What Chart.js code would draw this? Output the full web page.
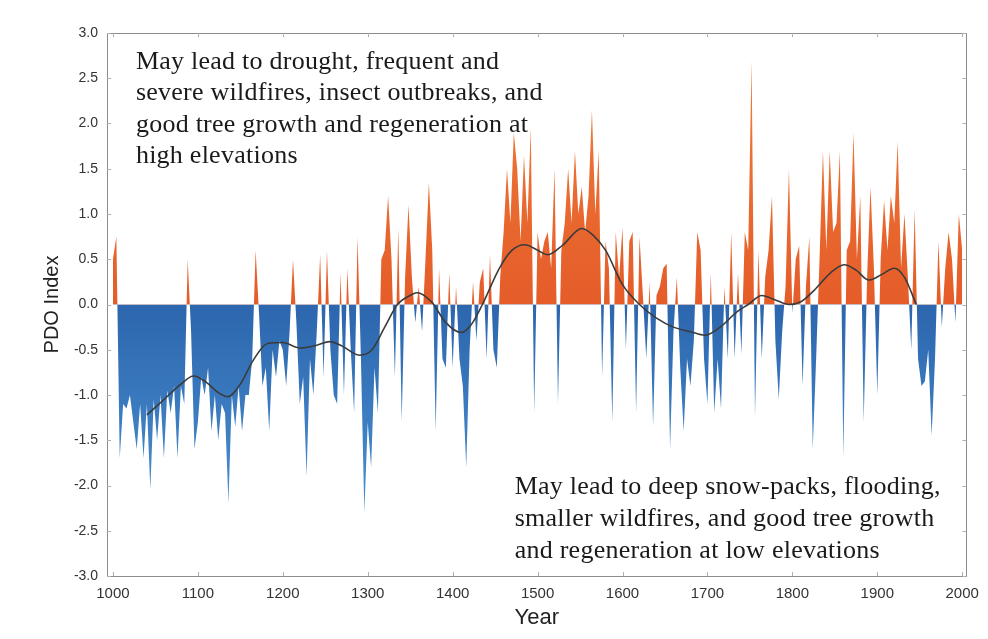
<!DOCTYPE html>
<html>
<head>
<meta charset="utf-8">
<script src="https://cdn.jsdelivr.net/npm/chart.js@4.4.1/dist/chart.umd.min.js"></script>
<style>
  html, body { margin: 0; padding: 0; background: #fff; }
  #wrap { width: 988px; height: 639px; position: relative; }
</style>
</head>
<body>
<div id="wrap"><canvas id="pdo"></canvas></div>
<script>
// Reconstructed PDO index, one reading every 4 years, grouped by century
var yearStep = 4;
var pdo1000s = [0.5, 0.75, -1.7, -1.1, -1.15, -1.0, -1.3, -1.6, -1.1, -1.7, -1.1, -2.05, -1.05, -1.5, -1.0, -1.7, -0.95, -1.2, -0.9, -1.7, -0.9, -1.1, 0.5, -0.3, -1.6];
var pdo1100s = [-1.3, -0.8, -1.0, -0.7, -1.4, -1.0, -1.5, -1.1, -1.2, -2.2, -1.0, -1.35, -0.9, -1.4, -1.0, -1.0, -0.6, 0.6, -0.1, -0.9, -0.7, -1.4, -0.5, -0.8, -0.4];
var pdo1200s = [-0.5, -0.9, -0.3, 0.5, -0.2, -1.1, -0.8, -1.9, -0.6, -1.0, -0.3, 0.55, -0.8, 0.6, -0.5, -1.0, -1.1, 0.35, -1.0, 0.4, -0.5, -1.2, 0.75, -0.6, -2.3];
var pdo1300s = [-1.3, -1.8, -0.7, -1.2, 0.5, 0.6, 1.2, 0.5, -0.8, 0.85, -1.3, 0.3, 1.1, 0.3, -0.2, 0.2, -0.3, 0.5, 1.35, 0.6, -1.4, 0.4, -0.6, -0.7, 0.35];
var pdo1400s = [-0.7, 0.2, -0.6, -0.9, -1.8, -0.5, 0.25, -0.4, 0.25, 0.4, -0.6, 0.55, -0.5, -0.7, 0.3, 0.8, 1.5, 0.9, 1.9, 1.5, 0.7, 1.65, 0.9, 1.95, -1.2];
var pdo1500s = [0.8, 0.5, 0.7, 0.8, 0.4, 1.5, -1.1, 0.6, 0.9, 1.5, 0.9, 1.7, 1.0, 1.3, 0.8, 1.2, 2.15, 1.0, 1.7, -0.8, 0.7, 0.4, -1.3, 0.8, 0.3];
var pdo1600s = [0.85, -0.5, 0.7, 0.8, -1.2, 0.75, 0.1, -0.6, 0.25, -1.35, 0.1, 0.2, 0.4, 0.45, -1.6, -0.3, 0.3, -0.7, -1.4, -0.6, -0.9, -0.4, 0.8, 0.6, -0.6];
var pdo1700s = [-1.1, 0.35, -1.2, -0.6, -1.15, 0.2, -0.6, 0.8, -0.6, 0.35, -0.55, 0.8, 0.6, 2.7, -1.25, 0.6, -0.6, 0.3, 0.6, 1.2, -0.4, -1.05, -0.3, 0.2, 1.5];
var pdo1800s = [-0.1, 0.5, 0.65, -0.9, 0.2, 0.75, -1.6, -0.6, 0.5, 1.7, 0.6, 1.7, 0.8, 0.9, 1.7, -1.7, 0.6, 0.7, 1.9, 0.5, 1.2, -1.3, 0.3, 1.3, 0.4];
var pdo1900s = [-1.0, 0.5, 1.15, 0.6, 1.2, 0.9, 1.8, 0.4, 1.0, 0.3, -0.5, 1.05, -0.6, -0.9, -0.85, -0.5, -1.45, -0.6, 0.7, -0.25, 0.4, 0.8, 0.5, -0.2, 1.0, 0.6];
var centuries = [[1000, pdo1000s], [1100, pdo1100s], [1200, pdo1200s], [1300, pdo1300s], [1400, pdo1400s],
                 [1500, pdo1500s], [1600, pdo1600s], [1700, pdo1700s], [1800, pdo1800s], [1900, pdo1900s]];

// smoothed (low-pass) curve
var smoothYears  = [1040, 1060, 1080, 1095, 1110, 1125, 1135, 1150, 1165, 1182, 1200, 1220, 1240, 1255, 1270, 1290, 1305, 1320, 1335, 1350, 1358, 1375, 1392, 1410, 1422, 1435, 1455, 1470, 1485, 1500, 1512, 1530, 1552, 1565, 1580, 1600, 1620, 1640, 1660, 1680, 1697, 1715, 1735, 1748, 1764, 1780, 1796, 1810, 1825, 1845, 1861, 1875, 1890, 1905, 1920, 1932, 1946];
var smoothValues = [-1.22, -1.05, -0.88, -0.79, -0.86, -0.98, -1.02, -0.88, -0.62, -0.43, -0.42, -0.48, -0.45, -0.41, -0.46, -0.56, -0.5, -0.25, 0.0, 0.1, 0.13, 0.03, -0.2, -0.31, -0.22, 0.0, 0.4, 0.6, 0.66, 0.6, 0.55, 0.66, 0.84, 0.77, 0.6, 0.22, 0.0, -0.15, -0.25, -0.3, -0.34, -0.25, -0.08, 0.0, 0.1, 0.05, 0.0, 0.03, 0.15, 0.35, 0.44, 0.38, 0.27, 0.33, 0.4, 0.3, 0.0];

var yTicks = [-3, -2.5, -2, -1.5, -1, -0.5, 0, 0.5, 1, 1.5, 2, 2.5, 3];
var xTicks = [1000, 1100, 1200, 1300, 1400, 1500, 1600, 1700, 1800, 1900, 2000];

var warmNote = ['May lead to drought, frequent and', 'severe wildfires, insect outbreaks, and',
                'good tree growth and regeneration at', 'high elevations'];
var coolNote = ['May lead to deep snow-packs, flooding,', 'smaller wildfires, and good tree growth',
                'and regeneration at low elevations'];

var series = [];
centuries.forEach(function (c) {
	c[1].forEach(function (v, i) { series.push({ x: c[0] + i * yearStep, y: v }); });
});
var smooth = smoothYears.map(function (yr, i) { return { x: yr, y: smoothValues[i] }; });

// warm / cool fills, a little lighter toward the spike tips
function pdoFill(ctx) {
	var chart = ctx.chart, a = chart.chartArea;
	var fill = { target: 'origin', above: '#e6612c', below: '#2e6bb3' };
	if (!a || !chart.scales.y) return fill;
	var y = chart.scales.y, g = chart.ctx;
	var warm = g.createLinearGradient(0, y.getPixelForValue(0), 0, y.getPixelForValue(2.7));
	warm.addColorStop(0, '#e55c29');
	warm.addColorStop(1, '#ef7d3a');
	var cool = g.createLinearGradient(0, y.getPixelForValue(0), 0, y.getPixelForValue(-2.3));
	cool.addColorStop(0, '#2c66ae');
	cool.addColorStop(1, '#4a8fcf');
	fill.above = warm;
	fill.below = cool;
	return fill;
}

var framePlugin = {
	id: 'frame',
	afterDatasetsDraw: function (chart) {
		var a = chart.chartArea, ctx = chart.ctx;
		ctx.save();
		ctx.strokeStyle = '#8c8c8c';
		ctx.lineWidth = 1;
		ctx.strokeRect(Math.round(a.left) + 0.5, Math.round(a.top) + 0.5, Math.round(a.right - a.left), Math.round(a.bottom - a.top));
		// small inner tick marks
		ctx.strokeStyle = '#b0b0b0';
		ctx.beginPath();
		yTicks.forEach(function (t) {
			var y = Math.round(chart.scales.y.getPixelForValue(t)) + 0.5;
			ctx.moveTo(a.left, y); ctx.lineTo(a.left + 4, y);
			ctx.moveTo(a.right, y); ctx.lineTo(a.right - 4, y);
		});
		xTicks.forEach(function (t) {
			var x = Math.round(chart.scales.x.getPixelForValue(t)) + 0.5;
			ctx.moveTo(x, a.bottom); ctx.lineTo(x, a.bottom - 4);
			ctx.moveTo(x, a.top); ctx.lineTo(x, a.top + 4);
		});
		ctx.stroke();
		ctx.restore();
	}
};

var notesPlugin = {
	id: 'notes',
	afterDraw: function (chart) {
		var ctx = chart.ctx, sx = chart.scales.x, sy = chart.scales.y;
		ctx.save();
		ctx.font = '26px "Liberation Serif", "DejaVu Serif", serif';
		ctx.letterSpacing = '0.25px';
		ctx.fillStyle = '#1a1a1a';
		ctx.textBaseline = 'middle';
		ctx.textAlign = 'left';
		var x1 = sx.getPixelForValue(1027), y1 = sy.getPixelForValue(2.68);
		warmNote.forEach(function (t, i) { ctx.fillText(t, x1, y1 + i * 31.5); });
		var x2 = sx.getPixelForValue(1473), y2 = sy.getPixelForValue(-2.02);
		coolNote.forEach(function (t, i) { ctx.fillText(t, x2, y2 + i * 32); });
		ctx.restore();
	}
};

new Chart(document.getElementById('pdo'), {
	type: 'line',
	data: {
		datasets: [
			{
				label: 'Smoothed',
				data: smooth,
				borderColor: '#3b3b3b',
				borderWidth: 1.6,
				pointRadius: 0,
				fill: false,
				tension: 0.4,
				cubicInterpolationMode: 'monotone'
			},
			{
				label: 'PDO',
				data: series,
				borderColor: 'rgba(0,0,0,0)',
				borderWidth: 0,
				pointRadius: 0,
				tension: 0,
				fill: pdoFill
			}
		]
	},
	options: {
		responsive: true,
		maintainAspectRatio: false,
		animation: false,
		devicePixelRatio: 1,
		layout: { padding: { top: 33, right: 21, left: 0, bottom: 0 } },
		plugins: { legend: { display: false }, tooltip: { enabled: false } },
		scales: {
			x: {
				type: 'linear', min: 993, max: 2005,
				afterBuildTicks: function (s) { s.ticks = xTicks.map(function (v) { return { value: v }; }); },
				afterFit: function (s) { s.height = 63; },
				grid: { display: false, drawTicks: false },
				border: { display: false },
				ticks: { color: '#333', font: { family: '"Liberation Sans Narrow", "Liberation Sans", Arial', size: 15 }, padding: 9, maxRotation: 0,
					callback: function (v) { return String(v); } },
				title: { display: true, text: 'Year', color: '#222', font: { family: '"Liberation Sans", Arial', size: 22 }, padding: { top: 0, bottom: 8 } }
			},
			y: {
				min: -3, max: 3,
				afterBuildTicks: function (s) { s.ticks = yTicks.map(function (v) { return { value: v }; }); },
				afterFit: function (s) { s.width = 107; },
				grid: { display: false, drawTicks: false },
				border: { display: false },
				ticks: { color: '#333', font: { family: '"Liberation Sans", Arial', size: 14 }, padding: 9,
					callback: function (v) { return v.toFixed(1); } },
				title: { display: true, text: 'PDO Index', color: '#222', font: { family: '"Liberation Sans", Arial', size: 20 }, padding: { top: 40, bottom: 0 } }
			}
		}
	},
	plugins: [framePlugin, notesPlugin]
});
</script>
</body>
</html>
